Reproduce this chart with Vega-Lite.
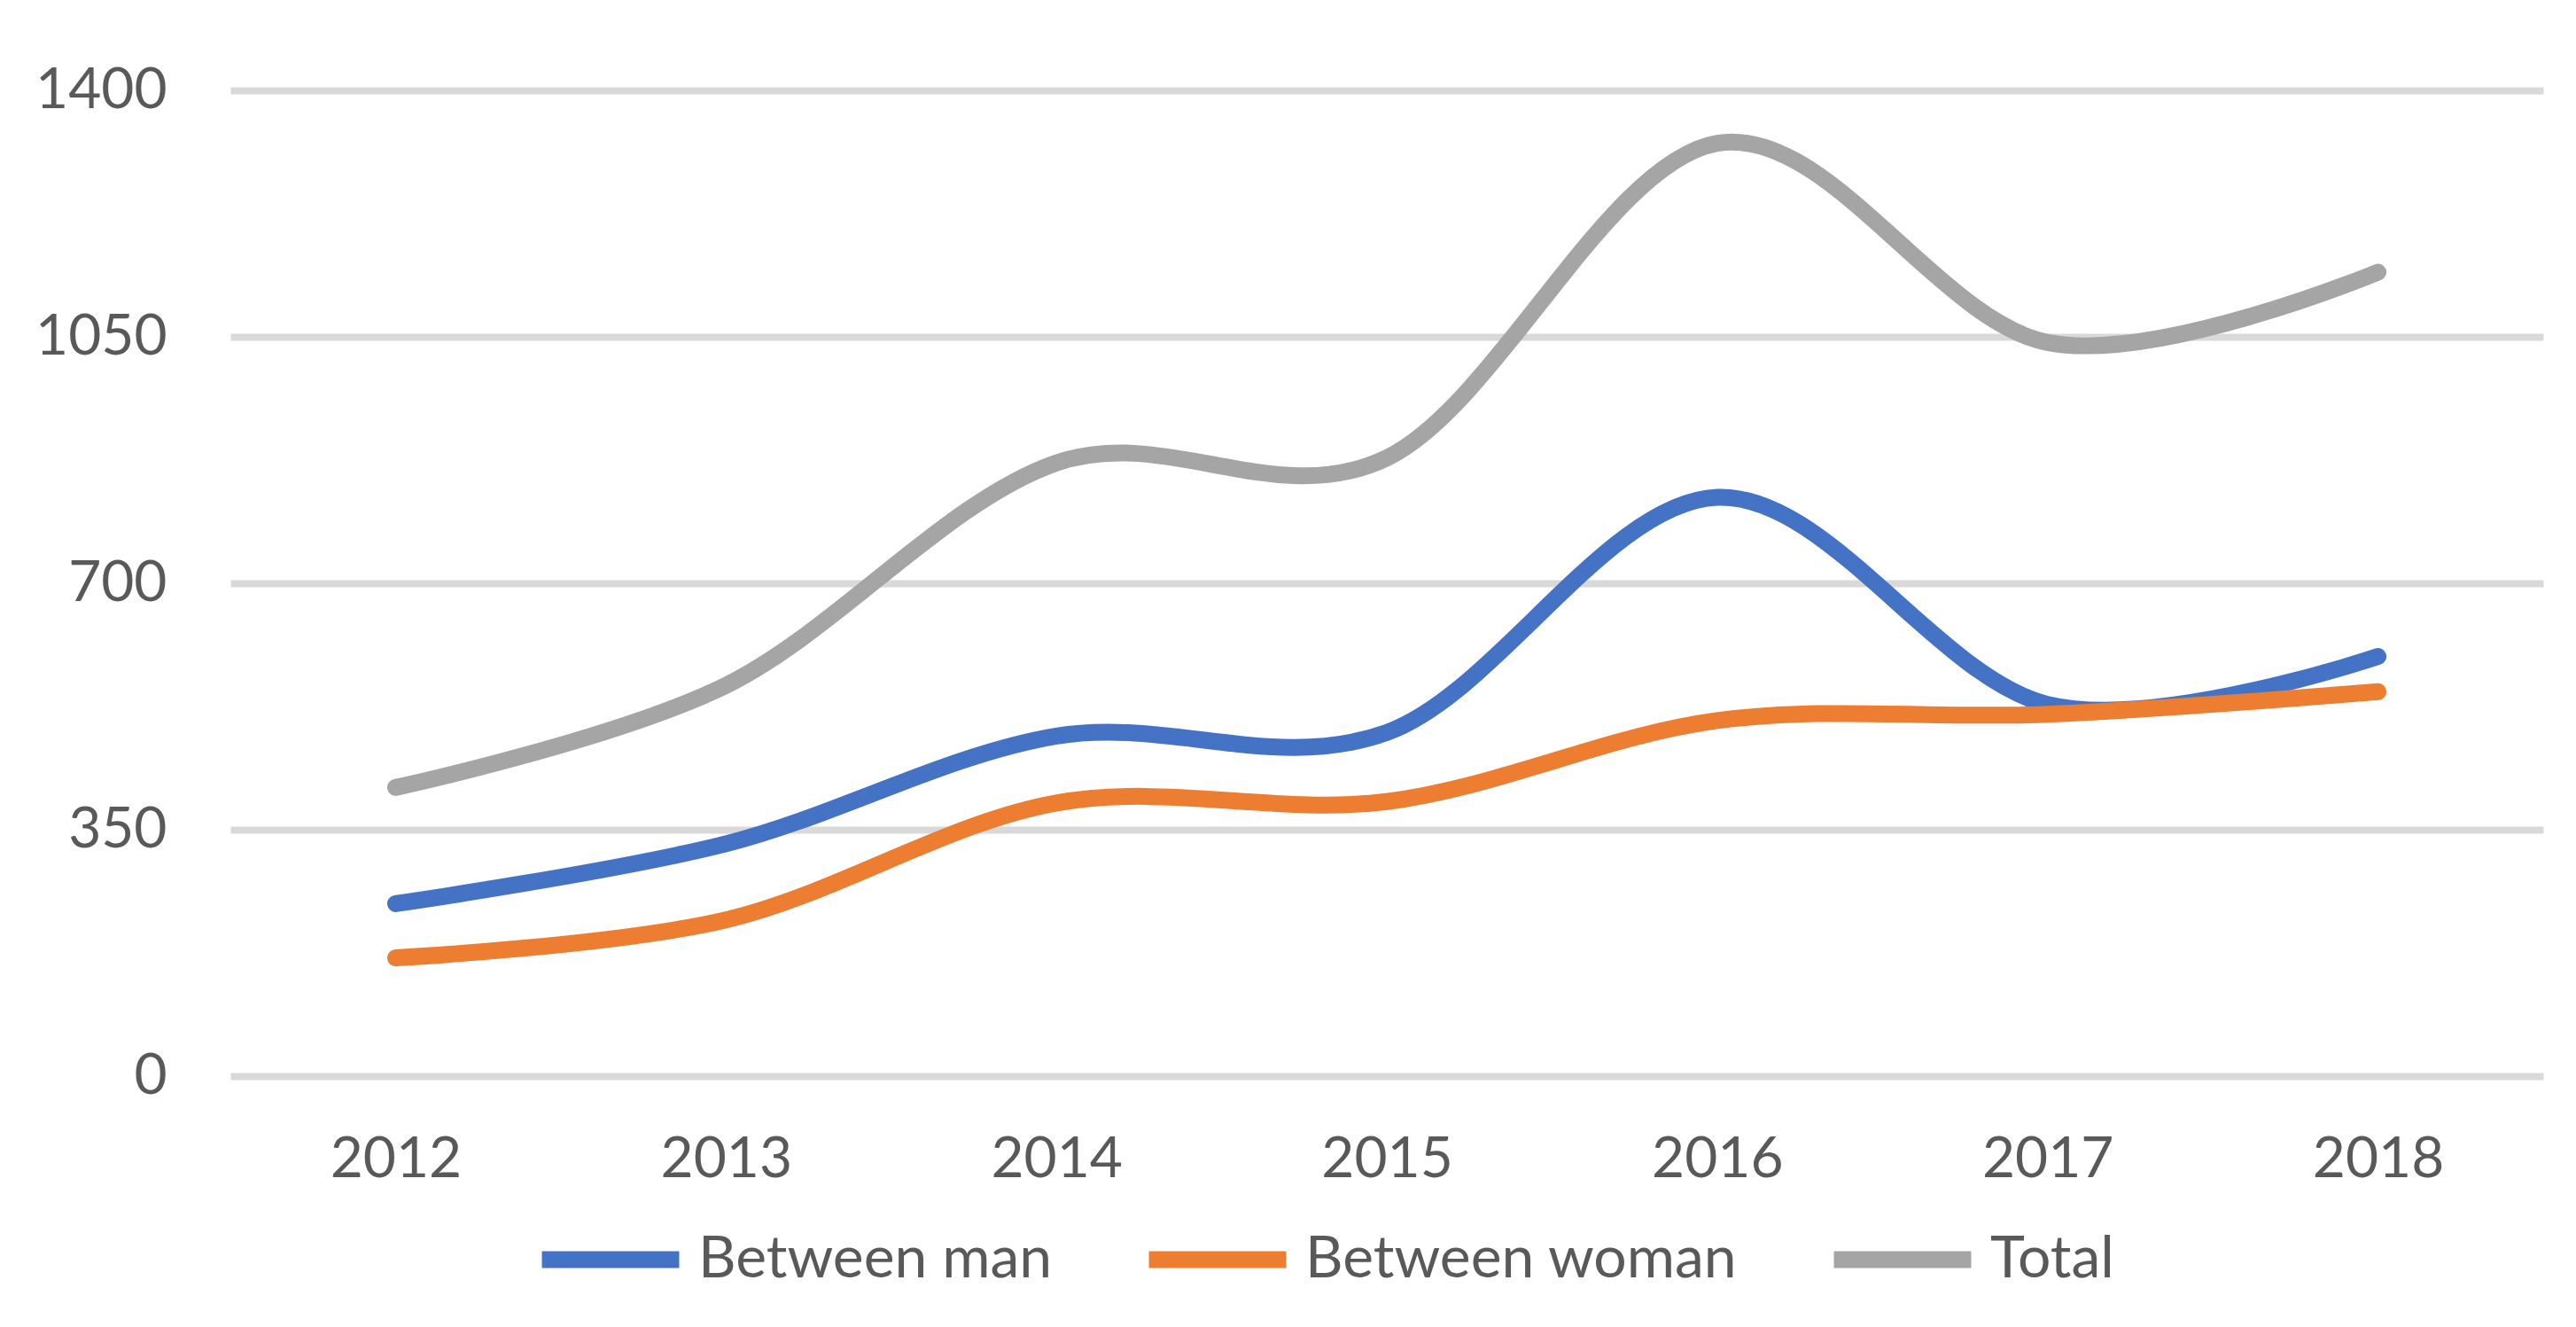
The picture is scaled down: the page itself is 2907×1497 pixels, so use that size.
{
  "$schema": "https://vega.github.io/schema/vega-lite/v6.json",
  "autosize": {"type": "none"},
  "width": 2610,
  "height": 1112,
  "padding": {"left": 260, "top": 102, "right": 37, "bottom": 283},
  "background": "white",
  "config": {
    "font": "Lato",
    "view": {"stroke": null},
    "axis": {"labelColor": "#595959", "labelFont": "Lato", "labelFontSize": 64}
  },
  "data": {
    "values": [
      {"year": "2012", "series": "Between man", "value": 245},
      {"year": "2013", "series": "Between man", "value": 330},
      {"year": "2014", "series": "Between man", "value": 483},
      {"year": "2015", "series": "Between man", "value": 488},
      {"year": "2016", "series": "Between man", "value": 822},
      {"year": "2017", "series": "Between man", "value": 528},
      {"year": "2018", "series": "Between man", "value": 596},
      {"year": "2012", "series": "Between woman", "value": 168},
      {"year": "2013", "series": "Between woman", "value": 222},
      {"year": "2014", "series": "Between woman", "value": 388},
      {"year": "2015", "series": "Between woman", "value": 390},
      {"year": "2016", "series": "Between woman", "value": 505},
      {"year": "2017", "series": "Between woman", "value": 514},
      {"year": "2018", "series": "Between woman", "value": 546},
      {"year": "2012", "series": "Total", "value": 410},
      {"year": "2013", "series": "Total", "value": 555},
      {"year": "2014", "series": "Total", "value": 871},
      {"year": "2015", "series": "Total", "value": 878},
      {"year": "2016", "series": "Total", "value": 1325},
      {"year": "2017", "series": "Total", "value": 1042},
      {"year": "2018", "series": "Total", "value": 1142}
    ]
  },
  "mark": {"type": "line", "interpolate": "cardinal", "tension": 0, "strokeWidth": 19, "strokeCap": "round", "strokeJoin": "round"},
  "encoding": {
    "x": {
      "field": "year", "type": "ordinal",
      "scale": {"type": "point", "padding": 0.5},
      "axis": {"title": null, "labelAngle": 0, "domain": false, "ticks": false, "labelPadding": 62, "grid": false}
    },
    "y": {
      "field": "value", "type": "quantitative",
      "scale": {"domain": [0, 1400], "nice": false},
      "axis": {"title": null, "values": [0, 350, 700, 1050, 1400], "format": "d", "domain": false, "ticks": false, "labelPadding": 72,
        "grid": true, "gridColor": "#d9d9d9", "gridWidth": 8}
    },
    "color": {
      "field": "series", "type": "nominal",
      "scale": {"domain": ["Between man", "Between woman", "Total"], "range": ["#4472C4", "#ED7D31", "#A5A5A5"]},
      "legend": {
        "title": null, "orient": "none", "direction": "horizontal",
        "legendX": 342, "legendY": 1232,
        "symbolType": "stroke", "symbolSize": 24000, "symbolStrokeWidth": 19,
        "labelFont": "Lato", "labelFontSize": 66, "labelColor": "#595959", "labelLimit": 0,
        "labelOffset": 12, "columnPadding": 70
      }
    }
  }
}
